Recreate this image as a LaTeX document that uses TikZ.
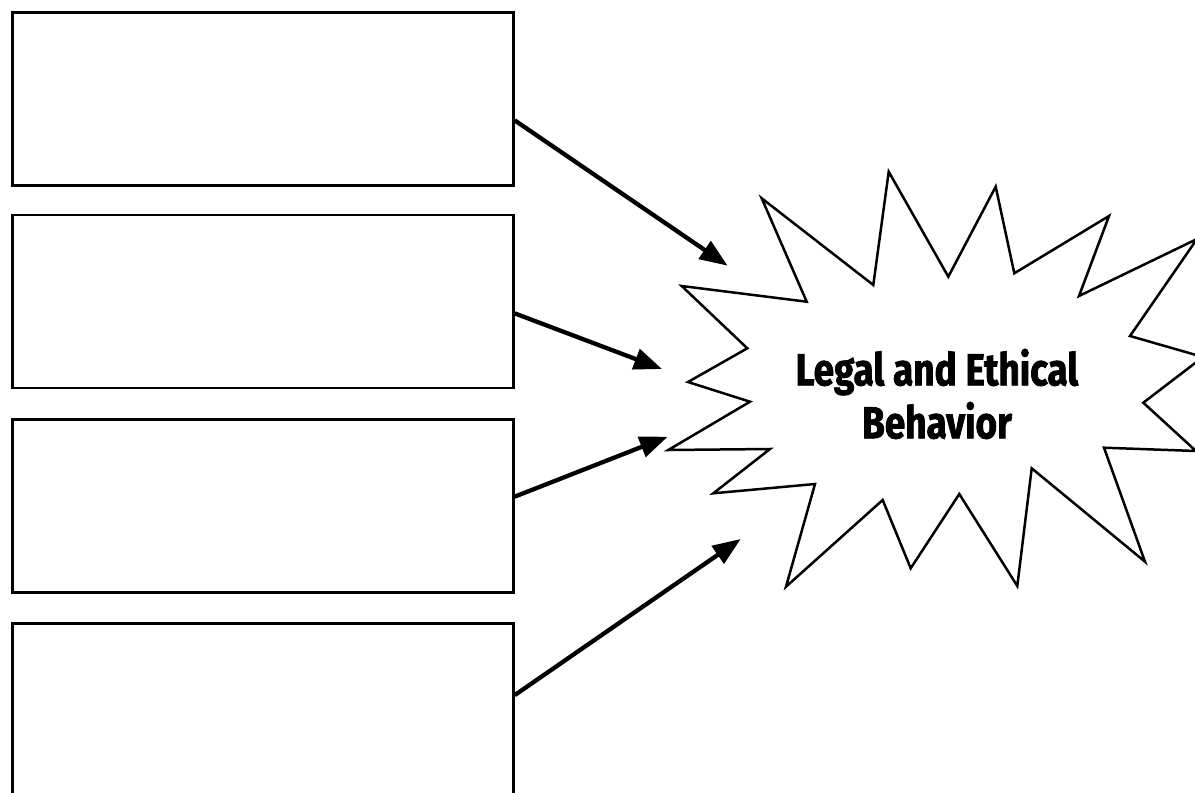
\documentclass[tikz,border=0pt]{standalone}
\usepackage{fontspec}
\usetikzlibrary{arrows.meta}
\newfontfamily\burstfont{Fira Sans}[FakeStretch=0.82,FakeBold=1.6]

\tikzset{
  blankbox/.style={draw=black, line width=2.7pt, fill=white, minimum width=501pt,
                   minimum height=173pt, inner sep=0pt, anchor=north west},
  feeder/.style={line width=4.3pt, -{Triangle[length=28pt,width=21pt]}},
  burstline/.style={draw=black, line width=2.5pt, fill=white, line join=miter},
  bursttext/.style={font=\burstfont\bfseries\fontsize{45}{53}\selectfont, align=center,
                    inner sep=0pt}
}

\begin{document}
\begin{tikzpicture}[x=1pt, y=-1pt]
  \useasboundingbox (0,0) rectangle (1195,793);
  \clip (0,0) rectangle (1195,793);
  \fill[white] (0,0) rectangle (1195,793);

  % four empty boxes on the left
  \node[blankbox] (b1) at (11,11) {};
  \node[blankbox] (b2) at (11,213.5) {};
  \node[blankbox] (b3) at (11,418.3) {};
  \node[blankbox] (b4) at (11,622.3) {};

  % the starburst outline
  \path[burstline]
    (681.7,286) -- (806.7,301.7) -- (761.7,198.3) -- (873.3,285) -- (888.7,171.7)
    -- (948.3,276.7) -- (995.7,186.7) -- (1014.3,273.3) -- (1109,216) -- (1079,296)
    -- (1197,239) -- (1130,336) -- (1203,357) -- (1143.3,402.7) -- (1196,451)
    -- (1104,447.7) -- (1145,561.7) -- (1031.7,468.3) -- (1017.3,586) -- (959.3,494)
    -- (910.7,568.3) -- (882.7,500) -- (786,586.7) -- (815,484) -- (713.3,493.3)
    -- (770,449) -- (668.3,450) -- (750,401.7) -- (688,382) -- (747.3,348.3)
    -- cycle;

  \node[bursttext] (burst) at (937,394) {Legal and Ethical\\Behavior};

  % free ends of the arrows, just outside the starburst
  \coordinate (t1) at (727.7,265.7);
  \coordinate (t2) at (662,369);
  \coordinate (t3) at (667.7,436.7);
  \coordinate (t4) at (740.7,539);

  \draw[feeder] ([yshift=-21.5pt]b1.east) -- (t1);
  \draw[feeder] ([yshift=-12pt]b2.east) -- (t2);
  \draw[feeder] ([yshift=9.5pt]b3.east) -- (t3);
  \draw[feeder] ([yshift=15pt]b4.east) -- (t4);
\end{tikzpicture}
\end{document}
